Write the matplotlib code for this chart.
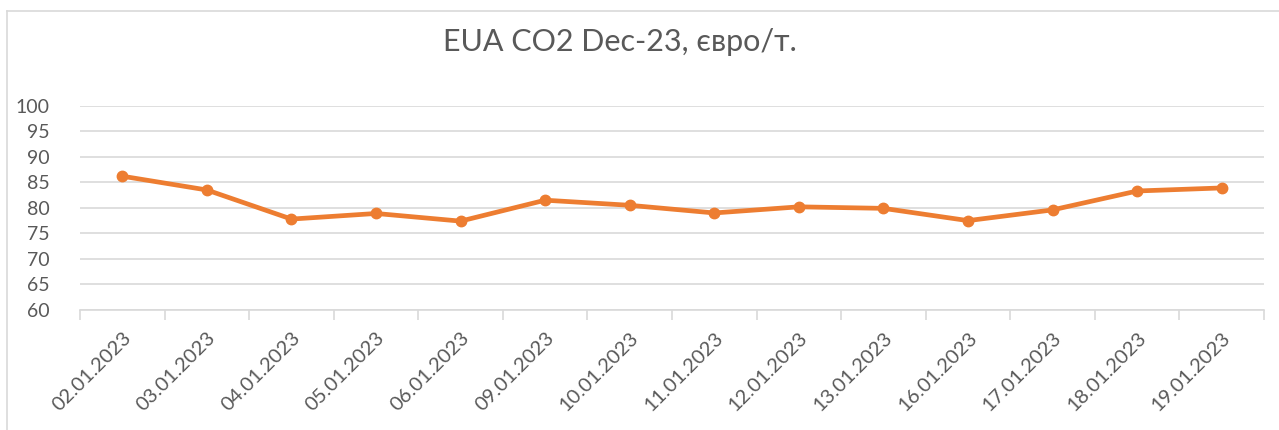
import matplotlib.pyplot as plt
from matplotlib.lines import Line2D

dates = ["02.01.2023", "03.01.2023", "04.01.2023", "05.01.2023", "06.01.2023",
         "09.01.2023", "10.01.2023", "11.01.2023", "12.01.2023", "13.01.2023",
         "16.01.2023", "17.01.2023", "18.01.2023", "19.01.2023"]
prices = [86.2, 83.5, 77.8, 78.9, 77.4, 81.5, 80.5, 79.0, 80.2, 79.9,
          77.5, 79.6, 83.3, 83.9]
yticks = [60, 65, 70, 75, 80, 85, 90, 95, 100]

plt.rcParams['font.family'] = ['Lato', 'DejaVu Sans']
text_col = '#595959'
grid_col = '#d9d9d9'

W, H = 1279, 430
fig = plt.figure(figsize=(W / 100, H / 100), dpi=100)
ax = fig.add_axes([80 / W, 1 - 310 / H, (1264 - 80) / W, (310 - 105.7) / H])

x = range(len(dates))
ax.plot(x, prices, color='#ED7D31', linewidth=3.4, marker='o', markersize=7.5,
        solid_capstyle='round', zorder=3)

ax.set_xlim(-0.5, len(dates) - 0.5)
ax.set_ylim(60, 100)
ax.set_yticks(yticks)
ax.set_yticklabels([str(v) for v in yticks], color=text_col, fontsize=14)
ax.tick_params(axis='y', length=0, pad=22)
ax.grid(axis='y', color=grid_col, linewidth=1.2)
ax.set_axisbelow(True)

# category labels between boundary tick marks
ax.set_xticks(list(x))
ax.set_xticklabels(dates, rotation=45, ha='right', rotation_mode='anchor',
                   color=text_col, fontsize=14.5)
ax.tick_params(axis='x', length=0, pad=14)
ax.set_xticks([i - 0.5 for i in range(len(dates) + 1)], minor=True)
ax.tick_params(axis='x', which='minor', length=7, color=grid_col, width=1.2)

for s in ['top', 'right', 'left']:
    ax.spines[s].set_visible(False)
ax.spines['bottom'].set_color(grid_col)
ax.spines['bottom'].set_linewidth(1.2)

fig.text(620 / W, 1 - 42 / H, "EUA CO2 Dec-23, євро/т.", ha='center',
         va='center', fontsize=22, color=text_col)

# outer chart border (top and left visible)
fig.add_artist(Line2D([7 / W, 1], [1 - 10.5 / H, 1 - 10.5 / H],
                      color=grid_col, linewidth=1.2))
fig.add_artist(Line2D([7 / W, 7 / W], [0, 1 - 10.5 / H],
                      color=grid_col, linewidth=1.2))

fig.savefig("out.png", dpi=100)
